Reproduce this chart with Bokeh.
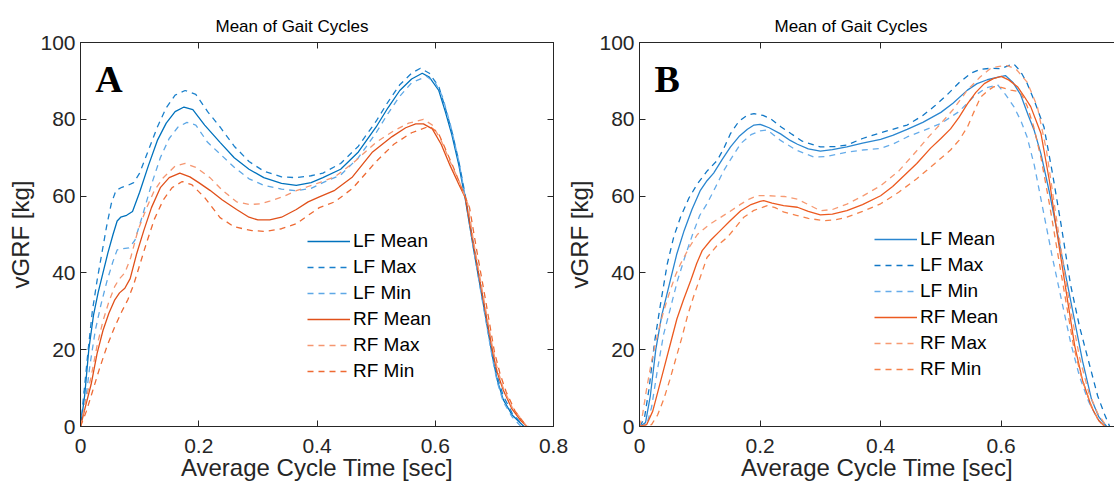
from bokeh.plotting import figure
from bokeh.models import (Range1d, LinearAxis, FixedTicker, Legend, LegendItem, Label, Title,
                          CustomLabelingPolicy)
from bokeh.layouts import row
from bokeh.embed import file_html
from bokeh.resources import INLINE

# ---------------- Panel A data ----------------
a_lf_mean_t = [0, 0.007, 0.014, 0.022, 0.03, 0.038, 0.046, 0.055, 0.062, 0.068, 0.078, 0.088, 0.1, 0.115, 0.13, 0.145, 0.16, 0.175, 0.19, 0.21, 0.236, 0.26, 0.285, 0.31, 0.34, 0.365, 0.39, 0.41, 0.44, 0.47, 0.5, 0.52, 0.54, 0.56, 0.578, 0.59, 0.606, 0.617, 0.628, 0.64, 0.651, 0.665, 0.68, 0.697, 0.705, 0.715, 0.73, 0.75]
a_lf_mean_v = [0, 8, 20, 29, 35, 40, 45, 50, 53.5, 54.5, 55, 56, 61, 68, 74.5, 79, 82, 83.2, 82.5, 78.5, 74, 70, 67, 64.8, 63.3, 62.8, 63.5, 64.8, 67, 71.5, 78, 83, 87.5, 90.5, 92, 91, 87.5, 82, 76, 68, 59, 46, 33, 18, 12, 7, 3, 0]

a_lf_max_t = [0, 0.006, 0.013, 0.02, 0.028, 0.036, 0.044, 0.052, 0.06, 0.07, 0.08, 0.09, 0.1, 0.115, 0.13, 0.145, 0.16, 0.177, 0.195, 0.215, 0.236, 0.26, 0.285, 0.31, 0.34, 0.365, 0.39, 0.41, 0.44, 0.47, 0.5, 0.52, 0.54, 0.56, 0.575, 0.59, 0.606, 0.617, 0.628, 0.64, 0.651, 0.665, 0.68, 0.697, 0.705, 0.715, 0.73, 0.75]
a_lf_max_v = [0, 9, 20, 30, 38, 45, 52, 58, 61.5, 62.3, 62.8, 63.5, 66, 72, 78, 83, 86.3, 87.5, 86.5, 82, 78, 73, 69, 66.5, 65, 64.8, 65.3, 66, 68.5, 73, 79.5, 84.5, 89, 92, 93.3, 92, 88.5, 83, 77, 69, 60, 47, 34, 19, 13, 8, 3.5, 0]

a_lf_min_t = [0, 0.008, 0.016, 0.025, 0.035, 0.045, 0.055, 0.062, 0.072, 0.082, 0.092, 0.105, 0.12, 0.135, 0.15, 0.165, 0.18, 0.195, 0.215, 0.236, 0.26, 0.285, 0.31, 0.34, 0.365, 0.39, 0.41, 0.44, 0.47, 0.5, 0.52, 0.54, 0.56, 0.585, 0.6, 0.612, 0.625, 0.64, 0.651, 0.665, 0.68, 0.697, 0.705, 0.715, 0.73, 0.745]
a_lf_min_v = [0, 6, 16, 25, 32, 38, 43, 46, 46.3, 46.5, 48.5, 55, 63, 70, 75, 78, 79.2, 78.5, 74, 71, 67.5, 64.5, 62.8, 61.8, 61.4, 62, 63.5, 65.5, 70, 76.5, 81.5, 86, 89.5, 91.2, 89.5, 86, 79, 69, 59.5, 46, 32.5, 17.5, 11.5, 6.5, 2.5, 0]

a_rf_mean_t = [0, 0.008, 0.018, 0.028, 0.038, 0.048, 0.058, 0.066, 0.075, 0.084, 0.095, 0.107, 0.12, 0.135, 0.15, 0.168, 0.185, 0.2, 0.219, 0.24, 0.264, 0.285, 0.3, 0.32, 0.34, 0.365, 0.385, 0.404, 0.43, 0.46, 0.494, 0.527, 0.55, 0.567, 0.58, 0.595, 0.61, 0.625, 0.64, 0.651, 0.665, 0.68, 0.697, 0.705, 0.715, 0.73, 0.745, 0.755]
a_rf_mean_v = [0, 5, 11, 19, 25, 29.5, 33, 34.8, 36, 38.5, 45, 51, 57, 62.2, 64.8, 66, 65, 63.5, 61.5, 59, 56.5, 54.5, 53.8, 53.8, 54.5, 56.5, 58.5, 59.8, 61.5, 65, 71.5, 75.5, 77.8, 78.8, 78.8, 77.5, 73.5, 68, 63, 59.5, 47, 34, 19.5, 14, 9.5, 4.5, 1.5, 0]

a_rf_max_t = [0, 0.008, 0.018, 0.028, 0.038, 0.048, 0.058, 0.066, 0.075, 0.085, 0.097, 0.112, 0.125, 0.14, 0.16, 0.177, 0.195, 0.219, 0.24, 0.264, 0.286, 0.305, 0.32, 0.345, 0.365, 0.385, 0.404, 0.43, 0.46, 0.5, 0.53, 0.555, 0.58, 0.595, 0.61, 0.625, 0.64, 0.655, 0.665, 0.68, 0.697, 0.705, 0.715, 0.73, 0.745, 0.755]
a_rf_max_v = [0, 6, 13, 21, 27.5, 32.5, 36.5, 38.5, 40, 44, 51, 57, 61.5, 64.8, 67.8, 68.5, 67.5, 64.8, 61.5, 58.5, 57.8, 58, 58.7, 60, 61.4, 62.5, 63.5, 65, 68.5, 74, 77, 79, 80, 78.5, 74.5, 69, 64, 58, 48, 35, 20.5, 15, 10, 5, 2, 0]

a_rf_min_t = [0, 0.01, 0.02, 0.032, 0.045, 0.058, 0.07, 0.08, 0.09, 0.1, 0.112, 0.125, 0.14, 0.155, 0.172, 0.188, 0.21, 0.236, 0.26, 0.29, 0.314, 0.34, 0.365, 0.385, 0.404, 0.43, 0.46, 0.5, 0.53, 0.56, 0.59, 0.605, 0.618, 0.632, 0.645, 0.658, 0.67, 0.685, 0.7, 0.71, 0.72, 0.735, 0.75, 0.757]
a_rf_min_v = [0, 4, 9, 15, 21, 26, 30, 33, 37, 42, 48, 54, 59, 62.2, 63.8, 63, 59.6, 54.4, 52, 51, 50.8, 51.5, 52.8, 55, 57, 58.5, 62, 69, 73.5, 76.5, 78.2, 76.5, 72, 67, 62, 57, 46, 33, 19.5, 13.5, 9, 4, 1, 0]

# ---------------- Panel B data ----------------
b_lf_mean_t = [0, 0.01, 0.018, 0.027, 0.037, 0.051, 0.062, 0.074, 0.087, 0.101, 0.112, 0.123, 0.137, 0.151, 0.165, 0.179, 0.19, 0.2, 0.215, 0.234, 0.25, 0.262, 0.28, 0.3, 0.32, 0.344, 0.37, 0.4, 0.42, 0.444, 0.47, 0.5, 0.52, 0.544, 0.56, 0.577, 0.595, 0.607, 0.62, 0.632, 0.645, 0.655, 0.666, 0.68, 0.7, 0.72, 0.735, 0.75, 0.762, 0.775]
b_lf_mean_v = [0, 1, 8, 20, 29, 38, 45, 51, 56.5, 61.5, 64, 66, 69.5, 72.8, 75.5, 77.4, 78.5, 78.7, 77.8, 76.2, 74.5, 73.5, 72.3, 71.7, 72.1, 72.8, 73.8, 74.8, 75.8, 77.4, 79.2, 81.8, 84.2, 87.6, 89.3, 90.3, 91, 91.4, 89.5, 86.5, 81, 77, 71, 61, 45, 29, 17, 7, 2.5, 0]

b_lf_max_t = [0, 0.008, 0.016, 0.025, 0.035, 0.046, 0.057, 0.068, 0.082, 0.096, 0.112, 0.129, 0.14, 0.151, 0.165, 0.178, 0.19, 0.205, 0.217, 0.235, 0.251, 0.27, 0.3, 0.325, 0.344, 0.37, 0.4, 0.42, 0.444, 0.47, 0.49, 0.511, 0.53, 0.55, 0.565, 0.583, 0.6, 0.612, 0.621, 0.632, 0.643, 0.657, 0.671, 0.685, 0.7, 0.715, 0.73, 0.745, 0.76, 0.772, 0.78]
b_lf_max_v = [0, 2, 10, 22, 32, 42.3, 49.5, 54.5, 59.5, 63.2, 66.5, 69.3, 72.5, 76.3, 79.5, 81, 81.5, 81, 80.2, 78, 76.3, 74.3, 72.8, 72.9, 73.3, 75, 76.5, 77.4, 78.5, 81, 83.5, 86.5, 89.5, 92, 93, 93.3, 93.2, 94, 94.4, 92.5, 89.4, 84, 78, 66, 52, 37, 26, 17, 8, 3, 0]

b_lf_min_t = [0, 0.012, 0.02, 0.03, 0.04, 0.05, 0.063, 0.075, 0.088, 0.1, 0.112, 0.125, 0.14, 0.155, 0.168, 0.185, 0.2, 0.212, 0.222, 0.234, 0.26, 0.289, 0.31, 0.33, 0.346, 0.37, 0.4, 0.42, 0.444, 0.47, 0.5, 0.53, 0.555, 0.575, 0.594, 0.607, 0.621, 0.633, 0.643, 0.655, 0.67, 0.685, 0.7, 0.715, 0.73, 0.745, 0.758, 0.77]
b_lf_min_v = [0, 0.5, 5, 15, 24, 30, 38, 44, 50, 55, 58, 62, 66.7, 70.5, 73.7, 76, 77, 77.2, 76, 74.5, 72, 70.2, 70.3, 71, 71.5, 72, 72.4, 73.5, 75.4, 77, 78.9, 82, 86, 88.2, 89, 86.5, 83.3, 79.5, 75.4, 68, 56, 44, 33, 22, 13, 6.5, 2.5, 0]

b_rf_mean_t = [0, 0.012, 0.022, 0.032, 0.042, 0.052, 0.062, 0.073, 0.085, 0.095, 0.104, 0.118, 0.134, 0.15, 0.168, 0.185, 0.2, 0.206, 0.22, 0.239, 0.262, 0.28, 0.3, 0.32, 0.344, 0.37, 0.4, 0.42, 0.44, 0.46, 0.483, 0.5, 0.516, 0.53, 0.544, 0.558, 0.572, 0.587, 0.6, 0.613, 0.627, 0.638, 0.649, 0.666, 0.68, 0.695, 0.71, 0.722, 0.735, 0.75, 0.762, 0.772]
b_rf_mean_v = [0, 0.5, 4, 10, 16, 22, 28, 33, 38, 42.5, 45.8, 48.5, 51, 53.5, 56.2, 57.8, 58.6, 58.8, 58.2, 57.5, 57.1, 56, 55.1, 55.3, 56.2, 57.8, 60.1, 62.5, 65.5, 68.5, 72.5, 75, 77.5, 80.5, 84, 87, 89.3, 90.6, 91.2, 90.2, 88.5, 86, 83.3, 76.3, 64, 48, 33, 21, 12, 5, 1.5, 0]

b_rf_max_t = [0, 0.005, 0.012, 0.02, 0.03, 0.04, 0.05, 0.06, 0.068, 0.082, 0.096, 0.115, 0.134, 0.15, 0.168, 0.183, 0.195, 0.215, 0.24, 0.262, 0.28, 0.3, 0.32, 0.344, 0.37, 0.4, 0.43, 0.461, 0.48, 0.5, 0.52, 0.544, 0.565, 0.583, 0.597, 0.61, 0.625, 0.643, 0.66, 0.675, 0.69, 0.705, 0.718, 0.73, 0.745, 0.76, 0.775]
b_rf_max_v = [0, 3, 10, 17, 24, 30, 35, 39.5, 42.3, 46.5, 50, 52.5, 54.4, 56, 57.9, 59.3, 60.1, 60.1, 59.9, 59.2, 57.8, 56.2, 56.5, 57.9, 60, 62.7, 66.5, 72, 75.5, 78.9, 82.5, 87.6, 91, 93.3, 93.8, 94, 93, 89.7, 83.3, 72, 56, 40, 28, 18, 9, 3.5, 0]

b_rf_min_t = [0, 0.02, 0.03, 0.04, 0.05, 0.06, 0.07, 0.08, 0.09, 0.1, 0.112, 0.128, 0.146, 0.16, 0.173, 0.19, 0.212, 0.225, 0.24, 0.26, 0.28, 0.306, 0.325, 0.344, 0.37, 0.4, 0.43, 0.46, 0.49, 0.516, 0.53, 0.544, 0.555, 0.566, 0.578, 0.588, 0.6, 0.616, 0.632, 0.643, 0.654, 0.666, 0.68, 0.695, 0.708, 0.72, 0.733, 0.748, 0.76, 0.772]
b_rf_min_v = [0, 0.5, 3, 7, 12, 17.5, 23, 29, 34, 38.5, 44, 47, 49.3, 52, 54.5, 56.3, 57.5, 57, 55.8, 55, 54.2, 53.6, 53.8, 54.5, 56, 58, 61, 64.5, 68.5, 72, 74.5, 78, 82, 85.8, 87.5, 88.5, 88.3, 87.6, 87.1, 83.5, 78, 70, 58, 44, 32, 21, 13, 6, 2, 0]

series_labels = ["LF Mean", "LF Max", "LF Min", "RF Mean", "RF Max", "RF Min"]
a_colors = ["#0072BD", "#1a80cc", "#5ea8e6", "#E0501A", "#f59670", "#ee6a33"]
b_colors = ["#2a86d0", "#1077c6", "#66acea", "#ec5a20", "#f79a72", "#f5824b"]
dashes = ["solid", "6 5", "6 5", "solid", "6 5", "6 5"]

a_x_ticks = [0, 0.2, 0.4, 0.6, 0.8]
b_x_ticks = [0, 0.2, 0.4, 0.6]
y_ticks = [0, 20, 40, 60, 80, 100]

FONT = "Liberation Sans"
AX = "#262626"

HIDE = CustomLabelingPolicy(code="""
for (const i of indices) { indices.unset(i) }
return indices
""")


def style_axis(ax, ticks, show_labels, overrides=None):
    ax.ticker = FixedTicker(ticks=ticks)
    ax.major_tick_in = 6
    ax.major_tick_out = 0
    ax.minor_tick_line_color = None
    ax.axis_line_color = AX
    ax.major_tick_line_color = AX
    ax.major_label_text_font = FONT
    ax.major_label_text_color = AX
    ax.axis_label_text_font = FONT
    ax.axis_label_text_font_style = "normal"
    ax.axis_label_text_color = AX
    if overrides:
        ax.major_label_overrides = overrides
    if show_labels:
        ax.major_label_text_font_size = "21px"
        ax.axis_label_text_font_size = "24px"
    else:
        ax.major_label_policy = HIDE
        ax.major_label_text_font_size = "2px"
        ax.major_label_standoff = 0


def make_panel(xmax, xticks, width, mbl, mbr, outline, data, colors, letter, legend_loc):
    p = figure(width=width, height=488, x_range=Range1d(0, xmax), y_range=Range1d(0, 100),
               output_backend="svg", toolbar_location=None,
               min_border_left=mbl, min_border_right=mbr, min_border_top=42, min_border_bottom=62,
               x_axis_label="Average Cycle Time [sec]", y_axis_label="vGRF [kg]")
    p.xgrid.visible = False
    p.ygrid.visible = False
    p.background_fill_color = "white"
    p.border_fill_alpha = 0
    p.outline_line_color = AX if outline else None

    xo = {0: "0", 0.2: "0.2", 0.4: "0.4", 0.6: "0.6", 0.8: "0.8"}
    style_axis(p.xaxis[0], xticks, True, xo)
    p.xaxis[0].major_label_standoff = 12
    p.xaxis[0].axis_label_standoff = -2
    style_axis(p.yaxis[0], y_ticks, True)
    p.yaxis[0].major_label_standoff = 5
    p.yaxis[0].axis_label_standoff = 3

    top = LinearAxis()
    style_axis(top, xticks, False)
    p.add_layout(top, "above")
    if outline:
        right = LinearAxis()
        style_axis(right, y_ticks, False)
        p.add_layout(right, "right")

    t = Title(text="Mean of Gait Cycles", align="left", offset=135,
              text_font=FONT, text_font_size="17px", text_font_style="normal",
              text_color="black", standoff=6)
    p.add_layout(t, "above")

    items = []
    for (tt, vv), lab, col, dsh in zip(data, series_labels, colors, dashes):
        r = p.line(tt, vv, line_color=col, line_width=1.3, line_dash=dsh)
        items.append(LegendItem(label=lab, renderers=[r]))

    leg = Legend(items=items, location=legend_loc, border_line_color=None,
                 background_fill_alpha=0, padding=0, margin=0, spacing=4,
                 glyph_width=43, glyph_height=22, label_height=22, label_standoff=3,
                 label_text_font=FONT, label_text_font_size="19px", label_text_color="black")
    p.add_layout(leg)

    p.add_layout(Label(x=0.025, y=90.5, text=letter, text_font="Liberation Serif",
                       text_font_style="bold", text_font_size="38px",
                       text_baseline="alphabetic", text_color="black"))
    return p


a_data = [(a_lf_mean_t, a_lf_mean_v), (a_lf_max_t, a_lf_max_v), (a_lf_min_t, a_lf_min_v),
          (a_rf_mean_t, a_rf_mean_v), (a_rf_max_t, a_rf_max_v), (a_rf_min_t, a_rf_min_v)]
b_data = [(b_lf_mean_t, b_lf_mean_v), (b_lf_max_t, b_lf_max_v), (b_lf_min_t, b_lf_min_v),
          (b_rf_mean_t, b_rf_mean_v), (b_rf_max_t, b_rf_max_v), (b_rf_min_t, b_rf_min_v)]

pA = make_panel(0.8, a_x_ticks, 568, 80, 15, True, a_data, a_colors, "A", (227, 44))
pB = make_panel(0.788, b_x_ticks, 551, 76, 0, False, b_data, b_colors, "B", (235, 46))
pB.margin = (0, 0, 0, -5)

layout = row(pA, pB)
open("out.html", "w").write(file_html(layout, INLINE))
